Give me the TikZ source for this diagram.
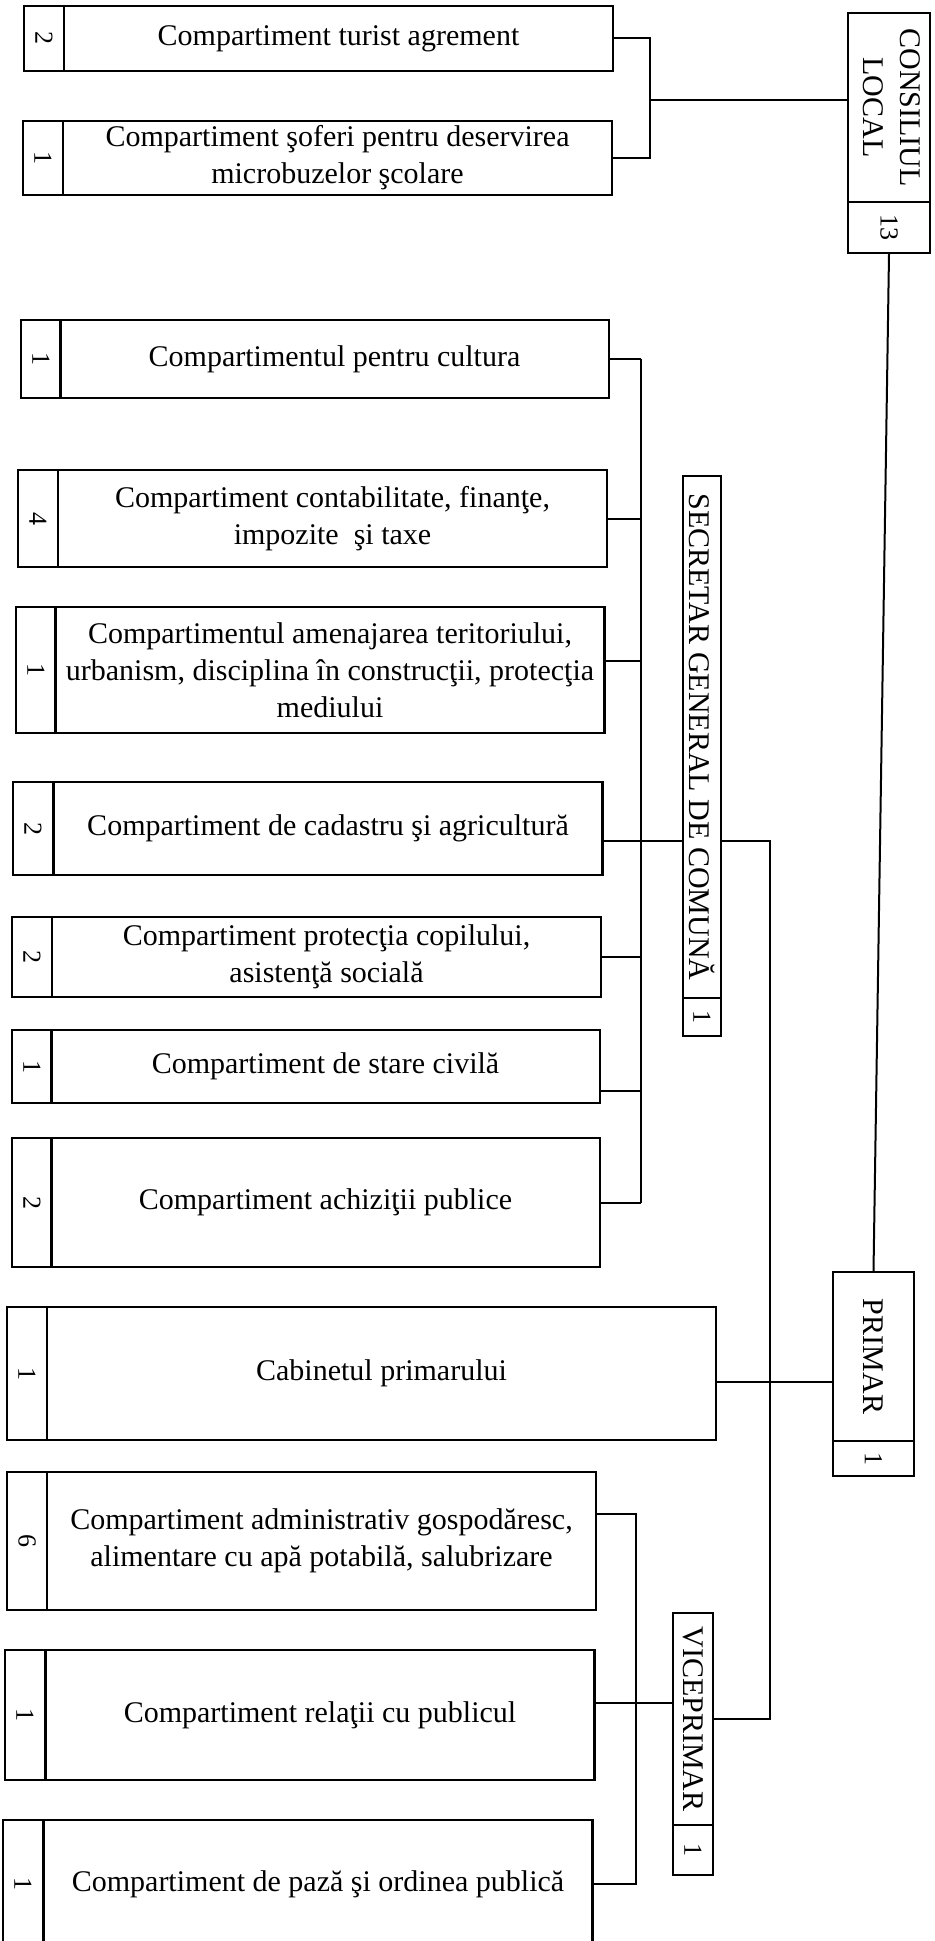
\documentclass[tikz,border=0pt]{standalone}
\usepackage{fontspec}
\setmainfont{Liberation Serif}
\usepackage{tikz}

\begin{document}
\begin{tikzpicture}[x=0.5pt,y=-0.5pt,
  dept/.style={draw,line width=1.2pt,minimum width=274.5pt,inner sep=2pt,align=center,font=\fontsize{15}{18.5}\selectfont},
  num/.style={draw,line width=1.2pt,minimum width=20pt,inner sep=0pt,font=\fontsize{13}{15}\selectfont},
  head/.style={draw,line width=1.2pt,inner sep=0pt,font=\fontsize{15}{18.5}\selectfont},
  conn/.style={line width=1pt}]

  \useasboundingbox (0,0) rectangle (935,1941);
  \clip (0,0) rectangle (935,1941);

  % conducere
  \node[head,minimum width=41pt,minimum height=94.5pt] (cl) at (889,107.5) {\rotatebox{-90}{\begin{tabular}{@{}c@{}}CONSILIUL\\LOCAL\end{tabular}}};
  \node[head,minimum width=41pt,minimum height=25.5pt,font=\fontsize{13}{15}\selectfont] (cln) at (889,227.5) {\rotatebox{-90}{13}};
  \node[head,minimum width=19pt,minimum height=261pt] (sg) at (702,737) {\rotatebox{-90}{SECRETAR GENERAL DE COMUNĂ}};
  \node[head,minimum width=19pt,minimum height=19pt,font=\fontsize{13}{15}\selectfont] (sgn) at (702,1017) {\rotatebox{-90}{1}};
  \node[head,minimum width=40.5pt,minimum height=84.5pt] (pr) at (873.5,1356.5) {\rotatebox{-90}{PRIMAR}};
  \node[head,minimum width=40.5pt,minimum height=17.5pt,font=\fontsize{13}{15}\selectfont] (prn) at (873.5,1458.5) {\rotatebox{-90}{1}};
  \node[head,minimum width=20pt,minimum height=106pt] (vp) at (693,1719) {\rotatebox{-90}{VICEPRIMAR}};
  \node[head,minimum width=20pt,minimum height=25pt,font=\fontsize{13}{15}\selectfont] (vpn) at (693,1850) {\rotatebox{-90}{1}};

  % compartimente
  \node[dept,minimum height=32.5pt] (1) at (338.5,38.5) {Compartiment turist agrement};
  \node[num,minimum height=32.5pt] (n1) at (44,38.5) {\rotatebox{-90}{2}};
  \node[dept,minimum height=37pt] (2) at (337.5,158) {Compartiment şoferi pentru deservirea\\microbuzelor şcolare};
  \node[num,minimum height=37pt] (n2) at (43,158) {\rotatebox{-90}{1}};
  \node[dept,minimum height=39pt] (3) at (334.5,359) {Compartimentul pentru cultura};
  \node[num,minimum height=39pt] (n3) at (41,359) {\rotatebox{-90}{1}};
  \node[dept,minimum height=48.5pt] (4) at (332.5,518.5) {Compartiment contabilitate, finanţe,\\impozite\ \ şi taxe};
  \node[num,minimum height=48.5pt] (n4) at (38,518.5) {\rotatebox{-90}{4}};
  \node[dept,minimum height=63pt] (5) at (330,670) {Compartimentul amenajarea teritoriului,\\urbanism, disciplina în construcţii, protecţia\\mediului};
  \node[num,minimum height=63pt] (n5) at (36,670) {\rotatebox{-90}{1}};
  \node[dept,minimum height=46.5pt] (6) at (328,828.5) {Compartiment de cadastru şi agricultură};
  \node[num,minimum height=46.5pt] (n6) at (33,828.5) {\rotatebox{-90}{2}};
  \node[dept,minimum height=40pt] (7) at (326.5,957) {Compartiment protecţia copilului,\\asistenţă socială};
  \node[num,minimum height=40pt] (n7) at (32,957) {\rotatebox{-90}{2}};
  \node[dept,minimum height=36.5pt] (8) at (325.5,1066.5) {Compartiment de stare civilă};
  \node[num,minimum height=36.5pt] (n8) at (32,1066.5) {\rotatebox{-90}{1}};
  \node[dept,minimum height=64.5pt] (9) at (325.5,1202.5) {Compartiment achiziţii publice};
  \node[num,minimum height=64.5pt] (n9) at (32,1202.5) {\rotatebox{-90}{2}};
  \node[dept,minimum width=334.5pt,minimum height=66.5pt] (10) at (381.5,1373.5) {Cabinetul primarului};
  \node[num,minimum height=66.5pt] (n10) at (27,1373.5) {\rotatebox{-90}{1}};
  \node[dept,minimum height=69pt] (11) at (321.5,1541) {Compartiment administrativ gospodăresc,\\alimentare cu apă potabilă, salubrizare};
  \node[num,minimum height=69pt] (n11) at (27,1541) {\rotatebox{-90}{6}};
  \node[dept,minimum height=65pt] (12) at (320,1715) {Compartiment relaţii cu publicul};
  \node[num,minimum height=65pt] (n12) at (25,1715) {\rotatebox{-90}{1}};
  \node[dept,minimum height=64pt] (13) at (318,1884) {Compartiment de pază şi ordinea publică};
  \node[num,minimum height=64pt] (n13) at (23,1884) {\rotatebox{-90}{1}};

  \coordinate (b1) at (650,100);
  \coordinate (sb) at (641,0);
  \coordinate (vb) at (770,0);
  \coordinate (vpb) at (636,0);
  \coordinate (e5) at ([yshift=4.5pt]5.east);
  \coordinate (e6) at ([yshift=-6pt]6.east);
  \coordinate (e8) at ([yshift=-12pt]8.east);
  \coordinate (e10) at ([yshift=-4pt]10.east);
  \coordinate (e11) at ([yshift=13.5pt]11.east);
  \coordinate (e12) at ([yshift=6pt]12.east);

  \draw[conn] (1.east) -| (b1) |- (2.east);
  \draw[conn] (b1) -- (b1 -| cl.west);
  \draw[conn] (cln.south) -- (pr.north);

  \draw[conn] (sb |- 3.east) -- (sb |- 9.east);
  \path[conn]
    (3.east) edge (3.east -| sb)
    (4.east) edge (4.east -| sb)
    (e5) edge (e5 -| sb)
    (e6) edge (e6 -| sg.west)
    (7.east) edge (7.east -| sb)
    (e8) edge (e8 -| sb)
    (9.east) edge (9.east -| sb);

  \draw[conn] (e6 -| sg.east) -| (vb |- vp.east) -- (vp.east);
  \draw[conn] (e10) -- (e10 -| pr.west);
  \draw[conn] (e11) -| (vpb |- 13.east) -- (13.east);
  \draw[conn] (e12) -- (e12 -| vp.west);

\end{tikzpicture}
\end{document}
